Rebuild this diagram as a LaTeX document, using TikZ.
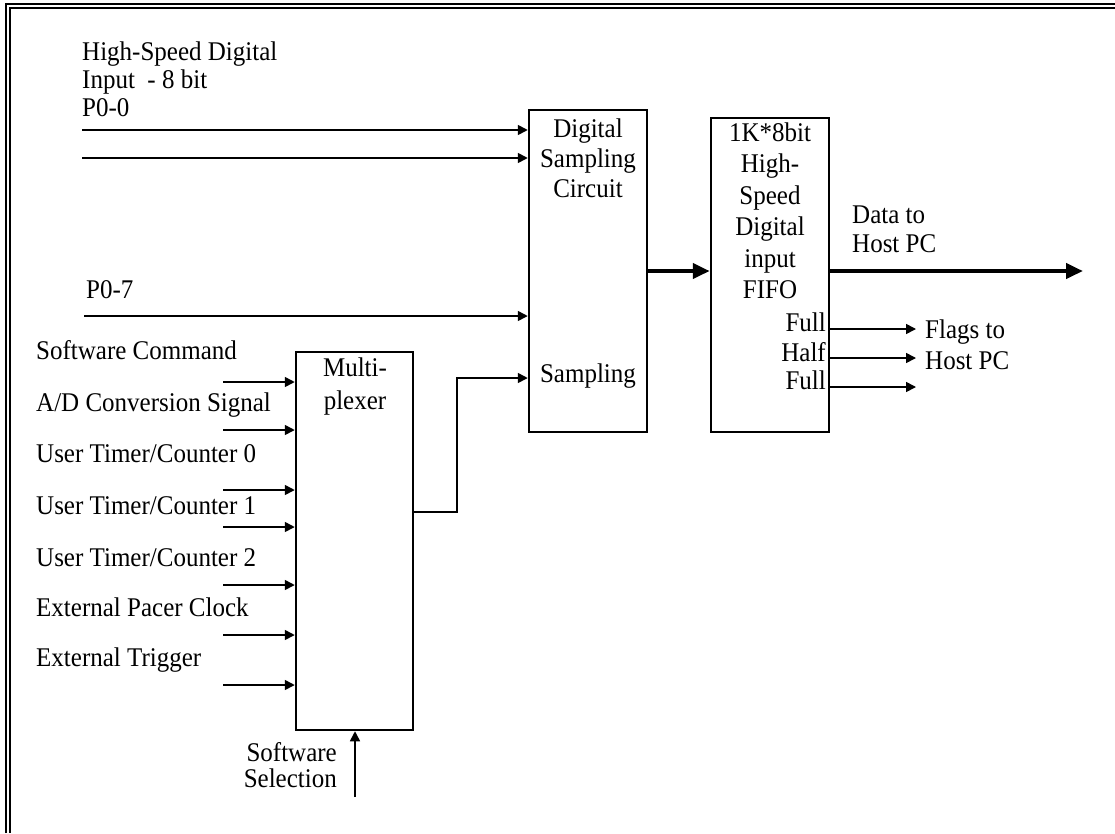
\documentclass[tikz,border=0pt]{standalone}
\usepackage{fontspec}
\setmainfont{Liberation Serif}
\usetikzlibrary{arrows.meta,positioning}

\begin{document}
\begin{tikzpicture}[x=1pt,y=-1pt,>={Triangle[length=10pt,width=10pt]},
    blk/.style={draw,line width=2.5pt,inner sep=0pt},
    txt/.style={inner sep=0pt,font=\fontsize{25}{29}\selectfont,text height=0.68em,text depth=0.22em,yscale=1.08,transform shape},
    sig/.style={->,line width=1.6pt},
    bus/.style={-{Triangle[length=17pt,width=15pt]},line width=4.5pt}]
        \useasboundingbox (0,0) rectangle (1115,833);
        % frame
        \draw[line width=2pt] (6,833)--(6,4)--(1115,4);
        \draw[line width=2.5pt] (10,833)--(10,8)--(1115,8);
        % blocks
        \node[blk,minimum width=118pt,minimum height=322pt] (dsc) at (588,271) {};
        \node[blk,minimum width=118pt,minimum height=314pt] (fifo) at (770,275) {};
        \node[blk,minimum width=117pt,minimum height=378pt] (mux) at (354.5,541) {};
        % block texts
        \node[txt] (dsc1) at (588,135) {Digital};
        \node[txt] (dsc2) at (588,165) {Sampling};
        \node[txt] (dsc3) at (588,195) {Circuit};
        \node[txt] (dsc4) at (588,380) {Sampling};
        \node[txt] (ff1) at (770,139) {1K*8bit};
        \node[txt] (ff2) at (770,170) {High-};
        \node[txt] (ff3) at (770,202) {Speed};
        \node[txt] (ff4) at (770,233) {Digital};
        \node[txt] (ff5) at (770,265) {input};
        \node[txt] (ff6) at (770,296) {FIFO};
        \node[txt,left] (full1) at (826,329) {Full};
        \node[txt,left] (half) at (826,359) {Half};
        \node[txt,left] (full2) at (826,387) {Full};
        \node[txt] (mux1) at (355,374) {Multi-};
        \node[txt] (mux2) at (355,407) {plexer};
        % digital input
        \node[txt,right] (hs1) at (82,58) {High-Speed Digital};
        \node[txt,right] (hs2) at (82,86) {Input\ \ - 8 bit};
        \node[txt,right] (hs3) at (82,114) {P0-0};
        \node[txt,right] (hs4) at (86,296) {P0-7};
        \coordinate (p00) at (82,130);
        \coordinate (p01) at (82,158);
        \coordinate (p07) at (84,316);
        \draw[sig] (p00) -- (p00 -| dsc.west);
        \draw[sig] (p01) -- (p01 -| dsc.west);
        \draw[sig] (p07) -- (p07 -| dsc.west);
        % data path
        \coordinate (dout) at (1083,271);
        \draw[bus] (dsc.east) -- (dsc.east -| fifo.west);
        \draw[bus] (dsc.east -| fifo.east) -- (dout);
        \node[txt,right] (dt1) at (852,221) {Data to};
        \node[txt,right] (dt2) at (852,250) {Host PC};
        % flags
        \foreach \y [count=\i] in {329,358,387} {
            \coordinate (fl\i) at (916,\y);
            \draw[sig] (fl\i -| fifo.east) -- (fl\i);
        }
        \node[txt,right] (fg1) at (925,336) {Flags to};
        \node[txt,right] (fg2) at (925,367) {Host PC};
        % multiplexer inputs
        \node[txt,right] (src1) at (36,357) {Software Command};
        \node[txt,right] (src2) at (36,409) {A/D Conversion Signal};
        \node[txt,right] (src3) at (36,460) {User Timer/Counter 0};
        \node[txt,right] (src4) at (36,512) {User Timer/Counter 1};
        \node[txt,right] (src5) at (36,564) {User Timer/Counter 2};
        \node[txt,right] (src6) at (36,614) {External Pacer Clock};
        \node[txt,right] (src7) at (36,664) {External Trigger};
        \foreach \y [count=\i] in {382,430,490,527,585,635,685} {
            \coordinate (in\i) at (223,\y);
            \draw[sig] (in\i) -- (in\i -| mux.west);
        }
        % sampling select
        \coordinate (mo) at (413,512);
        \coordinate (mk) at (457,512);
        \coordinate (samp) at (529,378);
        \draw[sig] (mo) -- (mk) |- (samp -| dsc.west);
        \coordinate (sel) at (355,797);
        \draw[sig] (sel) -- (sel |- mux.south);
        \node[txt,left] (sw1) at (337,759) {Software};
        \node[txt,left] (sw2) at (337,785) {Selection};
\end{tikzpicture}
\end{document}
